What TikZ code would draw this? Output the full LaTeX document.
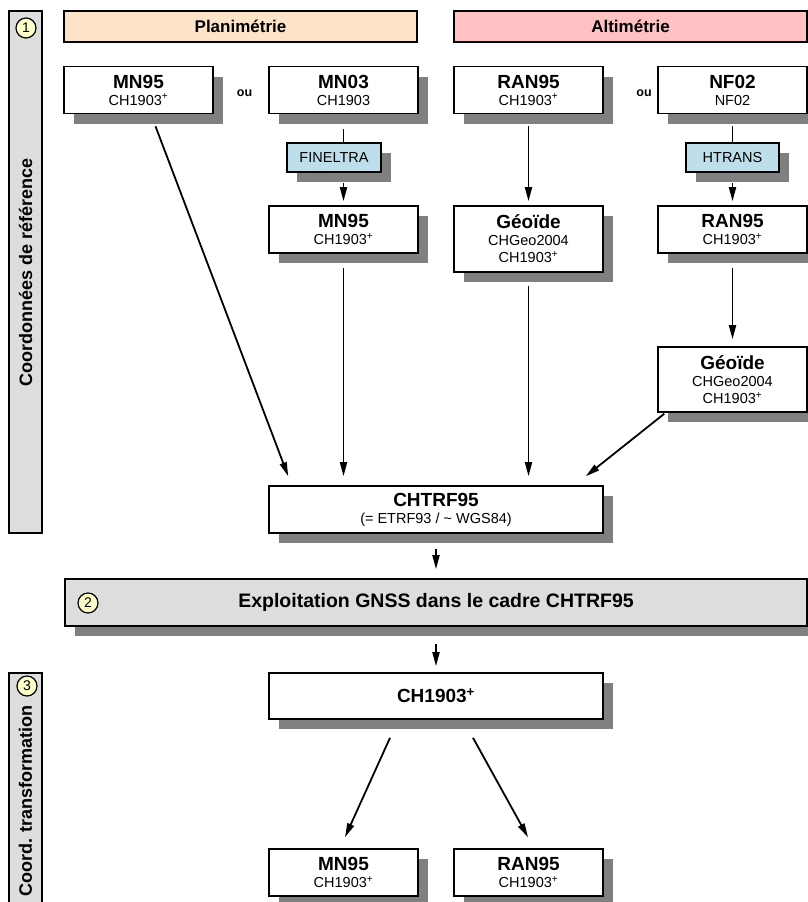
\documentclass[tikz,border=0pt]{standalone}
\usepackage{fontspec}
\setmainfont{Liberation Sans}
\usetikzlibrary{arrows.meta,shadows,positioning,calc}
\definecolor{P}{RGB}{253,228,200}
\definecolor{A}{RGB}{255,193,193}
\definecolor{T}{RGB}{191,222,236}
\definecolor{G}{RGB}{221,221,221}
\definecolor{Y}{RGB}{255,255,204}
\definecolor{S}{RGB}{128,128,128}
\newcommand{\titlefont}{\fontsize{19}{20}\selectfont\bfseries}
\newcommand{\subfont}{\fontsize{14.5}{17}\selectfont}
\newcommand{\chp}{CH1903\textsuperscript{+}}
\newcommand{\twoline}[2]{{\titlefont #1}\\#2}
\tikzstyle{refbox} = [rectangle, draw, line width=1.6pt, fill=white,
minimum width=149pt, minimum height=47pt, align=center, inner sep=0pt,
font=\subfont,
drop shadow={shadow xshift=10pt,shadow yshift=-10pt,fill=S,opacity=1}]
\tikzstyle{toolbox} = [refbox, fill=T, minimum width=94pt, minimum height=29pt]
\tikzstyle{headbar} = [rectangle, draw, line width=1.6pt, minimum width=353pt,
minimum height=31pt, font=\fontsize{17}{20}\selectfont\bfseries]
\tikzstyle{sidebar} = [rectangle, draw, line width=1.6pt, fill=G, minimum height=33pt,
rotate=90, font=\fontsize{18}{20}\selectfont\bfseries]
\tikzstyle{stepnum} = [circle, draw, line width=1.2pt, fill=Y, minimum size=20pt,
inner sep=0pt, font=\fontsize{14}{14}\selectfont]
\tikzstyle{arrow} = [-{Triangle[length=14pt,width=7pt]}, line width=1.8pt]
\tikzstyle{link} = [line width=1.8pt]
\begin{document}
\begin{tikzpicture}[x=1pt,y=-1pt]
\useasboundingbox (0,0) rectangle (808,902);
% side bars and headers
\node[sidebar, minimum width=522pt] (refbar) at (25.5,272) {Coordonnées de référence};
\node[sidebar, minimum width=256pt] (trfbar) at (25.5,801) {Coord. transformation};
\node[stepnum] (n1) at (26,28) {1};
\node[stepnum] (n3) at (27,686) {3};
\node[headbar, fill=P] (plani) at (240.5,26.5) {Planimétrie};
\node[headbar, fill=A] (alti) at (630.5,26.5) {Altimétrie};
% reference frames
\foreach \n/\x/\t/\s in {mn95a/138.5/MN95/\chp, mn03/343.5/MN03/CH1903,
  ran95a/528.5/RAN95/\chp, nf02/732.5/NF02/NF02}
  \node[refbox] (\n) at (\x,90) {\twoline{\t}{\s}};
\node[font=\fontsize{12.5}{12}\selectfont\bfseries] (ou1) at (244.5,93.5) {ou};
\node[font=\fontsize{12.5}{12}\selectfont\bfseries] (ou2) at (644,93.5) {ou};
\node[toolbox] (fineltra) at (334,157.5) {FINELTRA};
\node[toolbox, minimum width=93pt] (htrans) at (732.5,157.5) {HTRANS};
\node[refbox] (mn95b) at (343.5,229.5) {\twoline{MN95}{\chp}};
\node[refbox, minimum height=66pt] (geoa) at (528.5,239) {\twoline{Géoïde}{CHGeo2004\\\chp}};
\node[refbox] (ran95b) at (732.5,229.5) {\twoline{RAN95}{\chp}};
\node[refbox, minimum height=65pt] (geob) at (732.5,379.5) {\twoline{Géoïde}{CHGeo2004\\\chp}};
\node[refbox, minimum width=334pt] (chtrf) at (436,509.5)
  {\twoline{CHTRF95}{(= ETRF93 / \textasciitilde{} WGS84)}};
% GNSS and transformation
\node[refbox, minimum width=742pt, fill=G, font=\fontsize{19.5}{20}\selectfont\bfseries]
  (gnss) at (436,602.5) {Exploitation GNSS dans le cadre CHTRF95};
\node[stepnum] (n2) at (88,603) {2};
\node[refbox, minimum width=334pt, minimum height=46pt, font=\titlefont] (ch) at (436,696) {\chp};
\foreach \n/\x/\t in {mn95c/343.5/MN95, ran95c/528.5/RAN95}
  \node[refbox] (\n) at (\x,872.5) {\twoline{\t}{\chp}};
% connectors
\draw[link, shorten <=15pt] (mn03.south) -- (mn03.south |- fineltra.north);
\draw[arrow, shorten <=10pt, shorten >=4pt] (mn03.south |- fineltra.south) -- (mn95b.north);
\draw[arrow, shorten <=12pt, shorten >=4pt] (ran95a.south) -- (geoa.north);
\draw[link, shorten <=12pt] (nf02.south) -- (htrans.north);
\draw[arrow, shorten <=10pt, shorten >=4pt] (htrans.south) -- (ran95b.north);
\draw[arrow, shorten <=14pt, shorten >=7pt] (ran95b.south) -- (geob.north);
\draw[arrow] ($(mn95a.south)+(17,12)$) -- ($(chtrf.north west)+(20,-9)$);
\draw[arrow, shorten <=14pt, shorten >=9pt] (mn95b.south) -- (mn95b.south |- chtrf.north);
\draw[arrow, shorten <=13pt, shorten >=9pt] (geoa.south) -- (geoa.south |- chtrf.north);
\draw[arrow] ($(geob.south west)+(7,1)$) -- ($(chtrf.north east)+(-18,-9)$);
\draw[arrow, shorten <=15pt, shorten >=9pt] (chtrf.south) -- (gnss.north);
\draw[arrow, shorten <=17pt, shorten >=6pt] (gnss.south) -- (ch.north);
\draw[arrow] ($(ch.south)+(-46,18)$) -- ($(mn95c.north)+(1.5,-11)$);
\draw[arrow] ($(ch.south)+(37,18)$) -- ($(ran95c.north)+(-0.5,-11)$);
\end{tikzpicture}
\end{document}
